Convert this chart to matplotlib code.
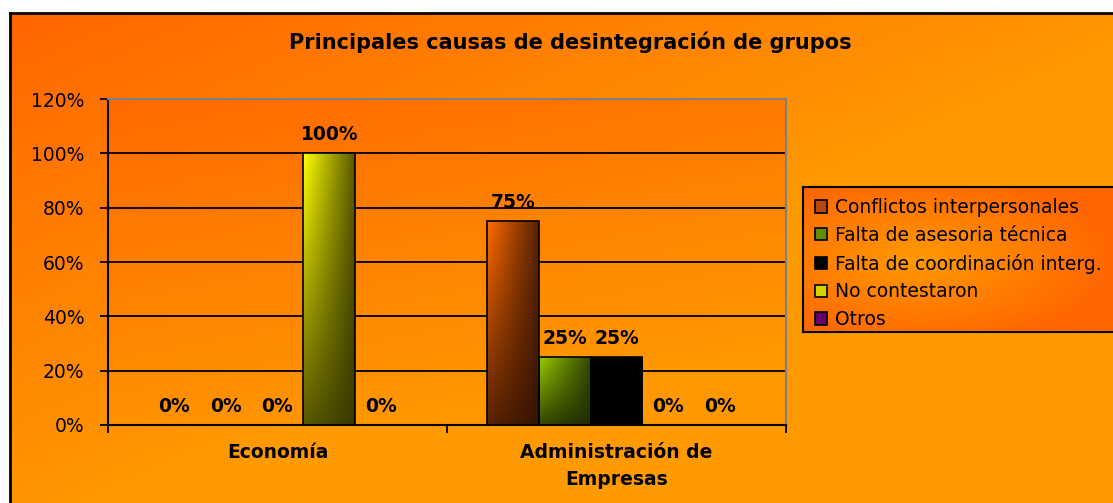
import matplotlib
matplotlib.use("Agg")
import matplotlib.pyplot as plt
import numpy as np
from matplotlib.patches import Patch
from matplotlib.colors import to_rgb

# datos del grafico
categorias = ["Economía", "Administración de\nEmpresas"]
series = ["Conflictos interpersonales", "Falta de asesoria técnica",
          "Falta de coordinación interg.", "No contestaron", "Otros"]
conflictos = [0.0, 0.75]
asesoria = [0.0, 0.25]
coordinacion = [0.0, 0.25]
no_contestaron = [1.0, 0.0]
otros = [0.0, 0.0]
valores = [conflictos, asesoria, coordinacion, no_contestaron, otros]

# colores: (claro, oscuro) para los degradados, y color de leyenda
claros = ["#ff6a00", "#9acc00", "#000000", "#ffff00", "#660066"]
oscuros = ["#2e1000", "#1a2600", "#000000", "#303000", "#330033"]
leyenda_col = ["#b5480f", "#5f8c00", "#000000", "#d4d400", "#660066"]

plt.rcParams['font.family'] = ['DejaVu Sans']

fig = plt.figure(figsize=(11.13, 5.03), dpi=100)
fig.patch.set_facecolor("white")

W, H = 1113, 503

def mezcla(c1, c2, t):
    a = np.array(to_rgb(c1)); b = np.array(to_rgb(c2))
    return a[None, None, :] * (1 - t[..., None]) + b[None, None, :] * t[..., None]

# fondo del area del grafico
bg = fig.add_axes([10 / W, 0, 1 - 10 / W, (H - 13) / H])
u, v = np.meshgrid(np.linspace(0, 1, 300), np.linspace(0, 1, 200))
bg.imshow(mezcla("#ff6600", "#ff9a00", np.clip(0.9 * u + 0.9 * v, 0, 1)),
          extent=[0, 1, 0, 1], aspect="auto", origin="upper")
bg.set_xticks([]); bg.set_yticks([])
for s in ["right", "bottom"]:
    bg.spines[s].set_visible(False)
for s in ["top", "left"]:
    bg.spines[s].set_linewidth(2)
    bg.spines[s].set_color("black")

fig.text(570 / W, 1 - 42 / H, "Principales causas de desintegración de grupos",
         ha="center", va="center", fontsize=15, fontweight="bold")

# area de trazado
ax = fig.add_axes([108 / W, (H - 425) / H, 678 / W, 326 / H])
ax.patch.set_alpha(0)
ax.imshow(mezcla("#ff6a00", "#ff9800", np.clip(0.85 * v + 0.35 * u, 0, 1)),
          extent=[-0.5, 1.5, 0, 1.2], aspect="auto", origin="upper", zorder=-1)

ancho = 0.153
x = np.arange(len(categorias))
for i, vals in enumerate(valores):
    pos = x + (i - 2) * ancho
    barras = ax.bar(pos, vals, width=ancho, facecolor="none",
                    edgecolor="black", linewidth=1.2, zorder=3)
    for rect, val in zip(barras, vals):
        if val > 0:
            uu, vv = np.meshgrid(np.linspace(0, 1, 60), np.linspace(0, 1, 120))
            t = 1 - (1 - 0.8 * uu) * (1 - 0.8 * vv)
            img = ax.imshow(mezcla(claros[i], oscuros[i], t),
                            extent=[rect.get_x(), rect.get_x() + rect.get_width(), 0, val],
                            aspect="auto", origin="upper", zorder=2.5)
            img.set_clip_path(rect)
        ax.annotate(f"{val:.0%}", (rect.get_x() + rect.get_width() / 2, val),
                    xytext=(0, 13), textcoords="offset pixels", ha="center",
                    va="baseline", fontsize=13.5, fontweight="bold", zorder=4)

ax.set_xlim(-0.5, 1.5)
ax.set_ylim(0, 1.2)
ax.set_yticks(np.arange(0, 1.21, 0.2))
ax.set_yticklabels([f"{int(round(t * 100))}%" for t in np.arange(0, 1.21, 0.2)])
ax.yaxis.grid(True, color="black", linewidth=1.3)
ax.set_axisbelow(True)
ax.tick_params(axis="y", length=6, width=1.3, pad=11, labelsize=13.5)

ax.set_xticks(x)
ax.set_xticklabels(categorias, fontsize=13.5, fontweight="bold", linespacing=1.5)
ax.set_xticks([-0.5, 0.5, 1.5], minor=True)
ax.tick_params(axis="x", which="major", length=0, pad=13)
ax.tick_params(axis="x", which="minor", length=6, width=1.3)

for s in ["left", "bottom"]:
    ax.spines[s].set_color("black")
    ax.spines[s].set_linewidth(1.5)
for s in ["top", "right"]:
    ax.spines[s].set_color("#808080")
    ax.spines[s].set_linewidth(1.5)

# leyenda con fondo radial
lx0, ly0, ly1 = 803, 187, 332
lg_ax = fig.add_axes([lx0 / W, (H - ly1) / H, (W + 20 - lx0) / W, (ly1 - ly0) / H])
uu, vv = np.meshgrid(np.linspace(0, 1, 200), np.linspace(0, 1, 100))
r = np.sqrt(((uu - 0.35) / 0.6) ** 2 + ((vv - 0.5) / 0.6) ** 2)
lg_ax.imshow(mezcla("#ff9a00", "#ff6600", np.clip(r, 0, 1)),
             extent=[0, 1, 0, 1], aspect="auto", origin="upper")
lg_ax.set_xticks([]); lg_ax.set_yticks([])
for s in lg_ax.spines.values():
    s.set_linewidth(1.5)
    s.set_color("black")

handles = [Patch(facecolor=c, edgecolor="black", linewidth=1.2) for c in leyenda_col]
fig.legend(handles, series, loc="upper left",
           bbox_to_anchor=((lx0 - 3) / W, 1 - (ly0 - 4) / H),
           frameon=False, fontsize=13.5, handlelength=0.65, handleheight=0.65,
           handletextpad=0.4, labelspacing=0.47, borderpad=0.3)

fig.savefig("out.png", dpi=100)
